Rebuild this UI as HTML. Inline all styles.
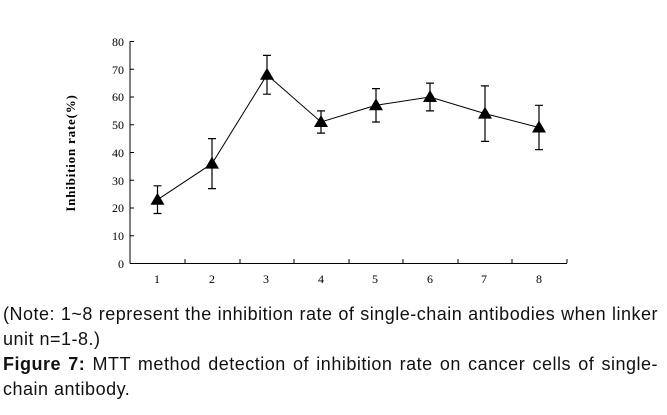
<!DOCTYPE html>
<html><head><style>
body{margin:0;width:667px;height:415px;background:#fff;overflow:hidden;position:relative;font-family:"Liberation Sans",Arial,sans-serif}
.l{position:absolute;left:3px;width:655px;font-size:18px;letter-spacing:0.5px;color:#111;white-space:nowrap}
.j{text-align:justify;text-align-last:justify}
</style></head><body>
<svg width="667" height="300" style="position:absolute;left:0;top:0" font-family="Liberation Serif, serif">
<g stroke="#000" stroke-width="1" fill="none">
<line x1="130" y1="41" x2="130" y2="263.5"/>
<line x1="130" y1="263.5" x2="567" y2="263.5"/>
</g>
<g font-size="12" fill="#000" text-anchor="end">
<text x="124" y="268">0</text><text x="124" y="240">10</text><text x="124" y="212">20</text><text x="124" y="185">30</text><text x="124" y="157">40</text><text x="124" y="129">50</text><text x="124" y="101">60</text><text x="124" y="74">70</text><text x="124" y="46">80</text>
</g>
<g stroke="#000">
<line x1="130" y1="263.5" x2="134" y2="263.5"/><line x1="130" y1="235.75" x2="134" y2="235.75"/><line x1="130" y1="208" x2="134" y2="208"/><line x1="130" y1="180.25" x2="134" y2="180.25"/><line x1="130" y1="152.5" x2="134" y2="152.5"/><line x1="130" y1="124.75" x2="134" y2="124.75"/><line x1="130" y1="97" x2="134" y2="97"/><line x1="130" y1="69.25" x2="134" y2="69.25"/><line x1="130" y1="41.5" x2="134" y2="41.5"/>
<line x1="185" y1="263" x2="185" y2="259"/><line x1="240" y1="263" x2="240" y2="259"/><line x1="294" y1="263" x2="294" y2="259"/><line x1="349" y1="263" x2="349" y2="259"/><line x1="403" y1="263" x2="403" y2="259"/><line x1="458" y1="263" x2="458" y2="259"/><line x1="512" y1="263" x2="512" y2="259"/><line x1="567" y1="263" x2="567" y2="259"/>
</g>
<g font-size="12" text-anchor="middle">
<text x="157" y="283">1</text><text x="212" y="283">2</text><text x="266" y="283">3</text><text x="321" y="283">4</text><text x="375" y="283">5</text><text x="430" y="283">6</text><text x="484" y="283">7</text><text x="539" y="283">8</text>
</g>
<text transform="translate(75,153) rotate(-90)" font-size="13" font-weight="bold" letter-spacing="0.8" text-anchor="middle">Inhibition rate(%)</text>
<polyline fill="none" stroke="#000" stroke-width="1" points="157.5,199.7 212,163.6 267,74.8 321,122 376,105.3 430,97 485,113.6 539,127.5"/>
<g stroke="#000" stroke-width="1.2">
<path d="M157.5,185.8V213.5M153.5,185.8H161.5M153.5,213.5H161.5"/>
<path d="M212,138.6V188.6M208,138.6H216M208,188.6H216"/>
<path d="M267,55.4V94.2M263,55.4H271M263,94.2H271"/>
<path d="M321,110.9V133.1M317,110.9H325M317,133.1H325"/>
<path d="M376,88.6V122M372,88.6H380M372,122H380"/>
<path d="M430,83.1V110.9M426,83.1H434M426,110.9H434"/>
<path d="M485,85.9V141.4M481,85.9H489M481,141.4H489"/>
<path d="M539,105.3V149.7M535,105.3H543M535,149.7H543"/>
</g>
<g fill="#000">
<path d="M157.5,192.7l-7,12h14z"/><path d="M212,156.6l-7,12h14z"/><path d="M267,67.8l-7,12h14z"/><path d="M321,115l-7,12h14z"/><path d="M376,98.3l-7,12h14z"/><path d="M430,90l-7,12h14z"/><path d="M485,106.6l-7,12h14z"/><path d="M539,120.5l-7,12h14z"/>
</g>
</svg>
<div class="l j" style="top:304px">(Note: 1~8 represent the inhibition rate of single-chain antibodies when linker</div>
<div class="l" style="top:329px">unit n=1-8.)</div>
<div class="l j" style="top:354px"><b>Figure 7:</b> MTT method detection of inhibition rate on cancer cells of single-</div>
<div class="l" style="top:379px">chain antibody.</div>
</body></html>
